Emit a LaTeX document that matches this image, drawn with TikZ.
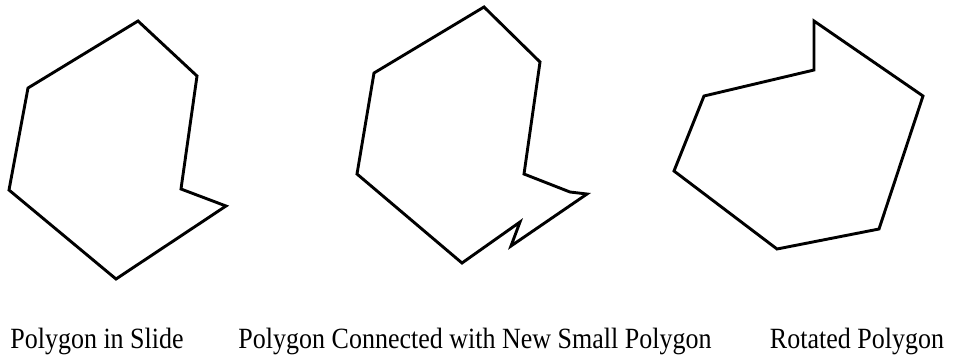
\documentclass[tikz,border=0pt]{standalone}
\usepackage{fontspec}
\setmainfont{Liberation Serif}
\usepackage{tikz}

\begin{document}
\begin{tikzpicture}[x=1pt, y=-1pt,
  outline/.style={draw=black, line width=2.9pt, line join=miter},
  caption/.style={anchor=base, font=\fontsize{26}{30}\selectfont, inner sep=0pt,
    yscale=1.13, transform shape}]
\useasboundingbox (0,0) rectangle (953,360);
% polygon in slide
\draw[outline] (138,21) -- (197,76) -- (181,189) -- (226,206)
  -- (116,279) -- (9,190) -- (28,88) -- cycle;
% polygon with the small one attached
\draw[outline] (484,7) -- (540,62) -- (524,174) -- (570,192) -- (587,194)
  -- (511,246) -- (520,222) -- (462,263) -- (357,174) -- (374,73) -- cycle;
% rotated polygon
\draw[outline] (814,21) -- (923,96) -- (879,229) -- (777,249)
  -- (674,171) -- (704,96) -- (814,70) -- cycle;
\node[caption] (slide) at (97,348) {Polygon in Slide};
\node[caption] (joined) at (475,348) {Polygon Connected with New Small Polygon};
\node[caption] (rotated) at (857,348) {Rotated Polygon};
\end{tikzpicture}
\end{document}
